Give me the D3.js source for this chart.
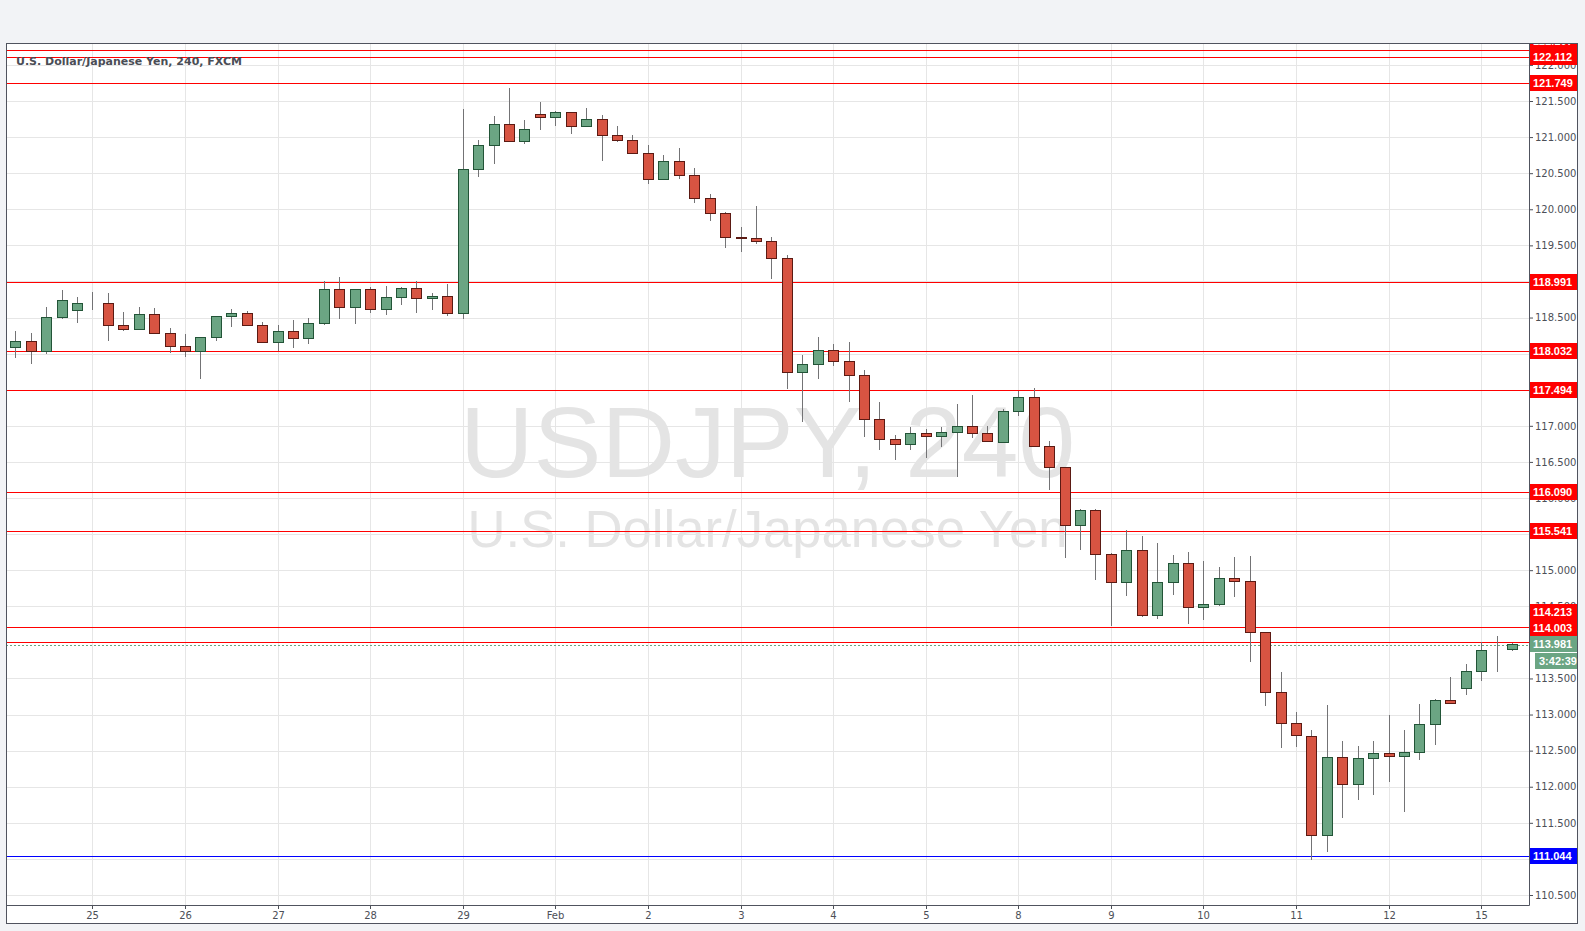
<!DOCTYPE html>
<html><head><meta charset="utf-8">
<script src="https://cdn.jsdelivr.net/npm/d3@7"></script>
<style>
html,body{margin:0;padding:0;background:#f2f3f6;}
svg{display:block;font-family:"Liberation Sans",Arial,sans-serif;}
</style>
</head><body>
<svg id="chart" width="1585" height="931"></svg>
<script>
// ---------------- data ----------------
const title = "U.S. Dollar/Japanese Yen, 240, FXCM";
const wmSymbol = "USDJPY, 240";
const wmDesc = "U.S. Dollar/Japanese Yen";
const dayLabels = ["25","26","27","28","29","Feb","2","3","4","5","8","9","10","11","12","15"];
const barsPerDay = 6;
const firstDayBar = 5;
const yTicks = [110.5,111,111.5,112,112.5,113,113.5,114,114.5,115,115.5,116,116.5,117,117.5,118,118.5,119,119.5,120,120.5,121,121.5,122];
const resistanceLevels = [122.207,122.112,121.749,118.991,118.032,117.494,116.090,115.541,114.213,114.003];
const supportLevels = [111.044];
const lastPrice = 113.981;
const countdown = "3:42:39";

const opens = [118.088,118.171,118.032,118.503,118.600,118.695,118.697,118.392,118.346,118.545,
118.282,118.101,118.041,118.226,118.517,118.559,118.392,118.157,118.309,118.212,
118.420,118.891,118.642,118.891,118.614,118.780,118.905,118.766,118.794,118.558,
120.553,120.886,121.177,120.941,121.315,121.274,121.343,121.149,121.246,121.024,
120.955,120.775,120.415,120.664,120.470,120.152,119.944,119.611,119.597,119.556,
119.320,117.741,117.852,118.046,117.893,117.699,117.090,116.813,116.744,116.896,
116.854,116.910,116.993,116.896,116.771,117.201,117.395,116.725,116.424,115.621,
115.829,115.219,114.831,115.274,114.374,114.831,115.094,114.485,114.526,114.887,
114.845,114.138,113.307,112.878,112.698,111.327,112.407,112.033,112.393,112.463,
112.421,112.477,112.864,113.197,113.363,113.599,113.890,113.904];
const highs = [118.314,118.286,118.646,118.882,118.785,118.854,118.840,118.577,118.646,118.633,
118.355,118.272,118.226,118.517,118.619,118.586,118.438,118.392,118.466,118.494,
119.002,119.062,118.891,118.923,118.937,118.928,119.002,118.835,118.965,121.389,
120.960,121.292,121.680,121.237,121.486,121.357,121.343,121.403,121.306,121.154,
121.029,120.890,120.752,120.849,120.572,120.212,119.962,119.754,120.045,119.616,
119.360,117.981,118.231,118.134,118.161,117.773,117.335,116.873,116.984,116.956,
116.984,117.302,117.427,116.993,117.228,117.482,117.524,116.790,116.424,115.842,
115.842,115.233,115.551,115.468,115.371,115.205,115.247,115.122,115.039,115.178,
115.191,114.138,113.584,113.030,112.786,113.132,112.634,112.560,112.634,112.994,
112.786,113.146,113.211,113.520,113.696,114.000,114.088,113.991];
const lows = [117.945,117.861,118.000,118.480,118.429,118.609,118.180,118.318,118.340,118.280,
118.014,117.954,117.654,118.180,118.374,118.390,118.150,118.041,118.083,118.138,
118.401,118.485,118.415,118.558,118.540,118.678,118.568,118.609,118.526,118.485,
120.452,120.632,120.928,120.909,121.103,121.158,121.048,121.149,120.673,120.937,
120.775,120.355,120.415,120.424,120.092,119.842,119.468,119.413,119.524,119.034,
117.510,117.058,117.653,117.833,117.335,116.850,116.665,116.531,116.670,116.559,
116.711,116.296,116.836,116.785,116.771,117.141,116.711,116.110,115.173,115.284,
114.868,114.222,114.646,114.346,114.328,114.660,114.258,114.314,114.499,114.633,
113.732,113.122,112.541,112.554,110.990,111.100,111.571,111.821,111.890,112.070,
111.655,112.375,112.583,113.141,113.266,113.469,113.594,113.885];
const closes = [118.171,118.032,118.503,118.739,118.697,118.700,118.392,118.346,118.545,118.282,
118.101,118.041,118.226,118.517,118.559,118.392,118.157,118.309,118.212,118.420,
118.891,118.642,118.891,118.614,118.780,118.905,118.766,118.794,118.558,120.553,
120.886,121.177,120.941,121.108,121.274,121.343,121.149,121.246,121.024,120.955,
120.775,120.415,120.664,120.470,120.152,119.944,119.611,119.597,119.556,119.320,
117.741,117.852,118.046,117.893,117.699,117.090,116.813,116.744,116.896,116.854,
116.910,116.993,116.896,116.785,117.201,117.395,116.725,116.424,115.621,115.829,
115.219,114.831,115.274,114.374,114.831,115.094,114.485,114.526,114.887,114.845,
114.138,113.307,112.878,112.711,111.327,112.407,112.033,112.393,112.463,112.421,
112.477,112.864,113.197,113.155,113.599,113.890,113.899,113.981];

// ---------------- layout ----------------
const L = 6, R = 1529, T = 43, B = 905, FR = 1578, FB = 924;
const upFill = "#6ba583", upStroke = "#225437", dnFill = "#d75442", dnStroke = "#5b1a13";
const wickColor = "#737375", gridColor = "#e6e6e6", frameColor = "#50535e", textColor = "#4c4f57";

const svg = d3.select("#chart");
const bars = opens.map((o,i)=>({i, o, h:highs[i], l:lows[i], c:closes[i]}));

const x = d3.scaleLinear().domain([0, bars.length-1]).range([15.3, 15.3 + (bars.length-1)*15.43]);
const y = d3.scaleLinear().domain([110.5, 121.5]).range([895, 101]);
const px = v => Math.round(v) + 0.5;

svg.append("rect").attr("x", L).attr("y", T).attr("width", FR-L).attr("height", FB-T).attr("fill", "#ffffff");

const defs = svg.append("defs");
defs.append("clipPath").attr("id","plotClip").append("rect").attr("x",L).attr("y",T).attr("width",R-L).attr("height",B-T);
defs.append("clipPath").attr("id","axisClip").append("rect").attr("x",R).attr("y",T).attr("width",FR-R).attr("height",B-T);

const plot = svg.append("g").attr("clip-path","url(#plotClip)");

// grid
const dayIdx = dayLabels.map((d,k)=> firstDayBar + k*barsPerDay);
plot.append("g").selectAll("line").data(yTicks).join("line")
  .attr("x1",L).attr("x2",R).attr("y1",d=>px(y(d))).attr("y2",d=>px(y(d)))
  .attr("stroke",gridColor).attr("stroke-width",1);
plot.append("g").selectAll("line").data(dayIdx).join("line")
  .attr("x1",d=>px(x(d))).attr("x2",d=>px(x(d))).attr("y1",T).attr("y2",B)
  .attr("stroke",gridColor).attr("stroke-width",1);

// watermark
const cx = (L+R)/2;
plot.append("text").attr("x",cx).attr("y",477).attr("text-anchor","middle")
  .attr("font-size",101).attr("fill","#e4e4e4")
  .attr("textLength",615).attr("lengthAdjust","spacingAndGlyphs").text(wmSymbol);
plot.append("text").attr("x",cx).attr("y",547).attr("text-anchor","middle")
  .attr("font-size",51).attr("fill","#e4e4e4")
  .attr("textLength",600).attr("lengthAdjust","spacingAndGlyphs").text(wmDesc);

// level lines
plot.append("g").selectAll("line").data(resistanceLevels).join("line")
  .attr("x1",L).attr("x2",R).attr("y1",d=>px(y(d))).attr("y2",d=>px(y(d)))
  .attr("stroke","#ff0000").attr("stroke-width",1);
plot.append("g").selectAll("line").data(supportLevels).join("line")
  .attr("x1",L).attr("x2",R).attr("y1",d=>px(y(d))).attr("y2",d=>px(y(d)))
  .attr("stroke","#0000ff").attr("stroke-width",1);
plot.append("line").attr("x1",L).attr("x2",R).attr("y1",px(y(lastPrice))+1).attr("y2",px(y(lastPrice))+1)
  .attr("stroke",upFill).attr("stroke-width",1).attr("stroke-dasharray","2,2");

// candles
const cg = plot.append("g");
cg.selectAll("line.wick").data(bars).join("line").attr("class","wick")
  .attr("x1",d=>px(x(d.i))).attr("x2",d=>px(x(d.i)))
  .attr("y1",d=>Math.round(y(d.h))).attr("y2",d=>Math.round(y(d.l)))
  .attr("stroke",wickColor).attr("stroke-width",1);
cg.selectAll("rect.body").data(bars).join("rect").attr("class","body")
  .attr("x",d=>Math.round(x(d.i))-4.5).attr("width",10)
  .attr("y",d=>px(y(Math.max(d.o,d.c))))
  .attr("height",d=>Math.max(0, Math.round(y(Math.min(d.o,d.c))) - Math.round(y(Math.max(d.o,d.c)))))
  .attr("fill",d=>d.c>=d.o?upFill:dnFill)
  .attr("stroke",d=>d.c>=d.o?upStroke:dnStroke).attr("stroke-width",1);

// title
svg.append("text").attr("x",16).attr("y",65).attr("font-family","DejaVu Sans")
  .attr("font-weight","bold").attr("font-size",11).attr("fill","#4a4d55").text(title);

// price labels on axis (computed first so covered tick labels can be skipped)
const labels = resistanceLevels.map(v=>({v, fill:"#ff0000"}))
  .concat(supportLevels.map(v=>({v, fill:"#0000ff"})))
  .concat([{v:lastPrice, fill:upFill}]);
labels.forEach(d=> d.ny = y(d.v));
labels.sort((a,b)=> b.ny - a.ny);
let prev = Infinity;
labels.forEach(d=>{ d.ly = Math.min(d.ny, prev - 16); prev = d.ly; });
const lpY = Math.round(y(lastPrice));
const boxCenters = labels.map(d=>Math.round(d.ly)).concat([lpY+17]);
const covered = t => boxCenters.some(c => Math.abs(c - y(t)) < 5);

// y axis
const yAxis = svg.append("g").attr("transform",`translate(${R},0)`)
  .call(d3.axisRight(y).tickValues(yTicks).tickFormat(d3.format(".3f")).tickSize(4).tickPadding(2));
yAxis.select(".domain").remove();
yAxis.selectAll("line").attr("stroke",textColor);
yAxis.selectAll("text").attr("font-family","DejaVu Sans").attr("font-size",10).attr("fill",textColor)
  .style("display", d => covered(d) ? "none" : null);

// x axis
const xAxis = svg.append("g").attr("transform",`translate(0,${B})`)
  .call(d3.axisBottom(x).tickValues(dayIdx).tickFormat((d,k)=>dayLabels[k]).tickSize(4).tickPadding(3));
xAxis.select(".domain").remove();
xAxis.selectAll(".tick").attr("transform",d=>`translate(${px(x(d))},0)`);
xAxis.selectAll("line").attr("stroke",textColor);
xAxis.selectAll("text").attr("font-family","DejaVu Sans").attr("font-size",10).attr("fill",textColor);

const lg = svg.append("g").attr("clip-path","url(#axisClip)");
const lab = lg.selectAll("g").data(labels).join("g").attr("transform",d=>`translate(0,${Math.round(d.ly)})`);
lab.append("rect").attr("x",R).attr("y",-8).attr("width",FR-R).attr("height",16).attr("fill",d=>d.fill);
lab.append("text").attr("x",R+4).attr("y",0).attr("dy","0.36em").attr("font-weight","bold")
  .attr("font-size",11).attr("fill","#ffffff").text(d=>d3.format(".3f")(d.v));
lg.append("rect").attr("x",R+6).attr("y",lpY+9).attr("width",FR-R-6).attr("height",16).attr("fill",upFill);
lg.append("text").attr("x",R+10).attr("y",lpY+17).attr("dy","0.36em").attr("font-weight","bold")
  .attr("font-size",11).attr("fill","#ffffff").text(countdown);

// frame lines
const fl = svg.append("g").attr("stroke",frameColor).attr("stroke-width",1).attr("fill","none");
fl.append("rect").attr("x",L+0.5).attr("y",T+0.5).attr("width",FR-L-1).attr("height",FB-T-1);
fl.append("line").attr("x1",R+0.5).attr("x2",R+0.5).attr("y1",T).attr("y2",B+0.5);
fl.append("line").attr("x1",L).attr("x2",R+0.5).attr("y1",B+0.5).attr("y2",B+0.5);
</script>
</body></html>
